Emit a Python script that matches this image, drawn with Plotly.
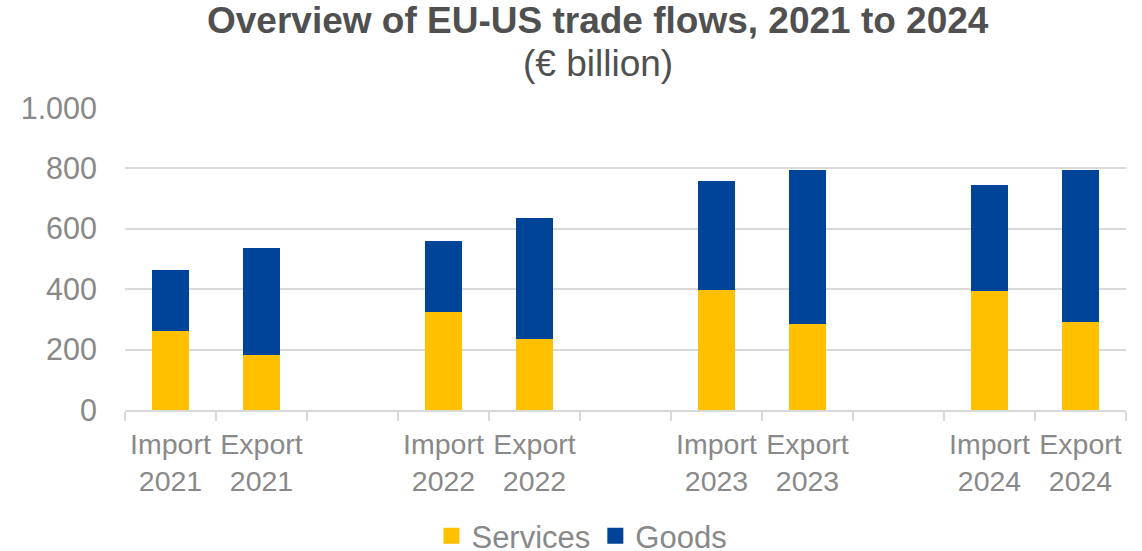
import plotly.graph_objects as go

categories = ["Import<br>2021", "Export<br>2021", " ",
              "Import<br>2022", "Export<br>2022", "  ",
              "Import<br>2023", "Export<br>2023", "   ",
              "Import<br>2024", "Export<br>2024"]
services = [261, 183, None, 324, 236, None, 397, 284, None, 395, 291]
goods = [204, 354, None, 235, 401, None, 360, 512, None, 349, 505]
title_text = "Overview of EU-US trade flows, 2021 to 2024"
subtitle_text = "(€ billion)"

YELLOW = "#FFC000"
BLUE = "#00449A"
GRAY = "#898989"
GRID = "#D9D9D9"
FONT = "Liberation Sans, Arial, sans-serif"

PT, PB = 108, 410  # plot top / bottom in pixels
def py(p):
    return (PB - p) / (PB - PT)

fig = go.Figure()
fig.add_trace(go.Bar(x=categories, y=services, name="Services",
                     marker=dict(color=YELLOW, line=dict(width=0)), showlegend=False))
fig.add_trace(go.Bar(x=categories, y=goods, name="Goods",
                     marker=dict(color=BLUE, line=dict(width=0)), showlegend=False))
for nm, col in [("Services", YELLOW), ("Goods", BLUE)]:
    fig.add_trace(go.Scatter(x=[None], y=[None], mode="markers", name=nm,
                             marker=dict(symbol="square", size=17, color=col)))

fig.add_annotation(text="<b>" + title_text + "</b>", xref="paper", yref="paper",
                   x=(598 - 125) / 1001, xanchor="center", y=py(20), yanchor="middle",
                   showarrow=False, font=dict(family=FONT, size=37, color="#505050"))
fig.add_annotation(text=subtitle_text, xref="paper", yref="paper",
                   x=(598 - 125) / 1001, xanchor="center", y=py(64), yanchor="middle",
                   showarrow=False, font=dict(family=FONT, size=37, color="#505050"))

fig.update_layout(
    width=1142, height=551,
    barmode="stack", bargap=0.6,
    plot_bgcolor="white", paper_bgcolor="white",
    font=dict(family=FONT, color=GRAY),
    separators=",.",
    margin=dict(l=125, r=16, t=108, b=141, autoexpand=False),
    xaxis=dict(
        type="category", categoryorder="array", categoryarray=categories,
        tickson="boundaries", ticks="outside", ticklen=9, tickwidth=2, tickcolor=GRID,
        showline=True, linecolor=GRID, linewidth=2, showgrid=False,
        tickfont=dict(size=28.5, color=GRAY, family=FONT),
        tickangle=0, automargin=False,
        ticklabelstandoff=8,
    ),
    yaxis=dict(
        range=[0, 1000], tickvals=[0, 200, 400, 600, 800, 1000],
        showgrid=True, gridcolor=GRID, gridwidth=1.5, zeroline=False,
        tickfont=dict(size=30.5, color=GRAY, family=FONT),
        tickformat=",d", ticks="", ticklabelstandoff=27, automargin=False,
    ),
    legend=dict(
        orientation="h", x=0.4565, xanchor="center", y=py(509), yanchor="top",
        font=dict(size=31, color=GRAY, family=FONT),
        traceorder="normal", bgcolor="rgba(0,0,0,0)",
    ),
)

fig.write_html("out.html", config={"displayModeBar": False},
               post_script="document.body.style.margin='0';")
